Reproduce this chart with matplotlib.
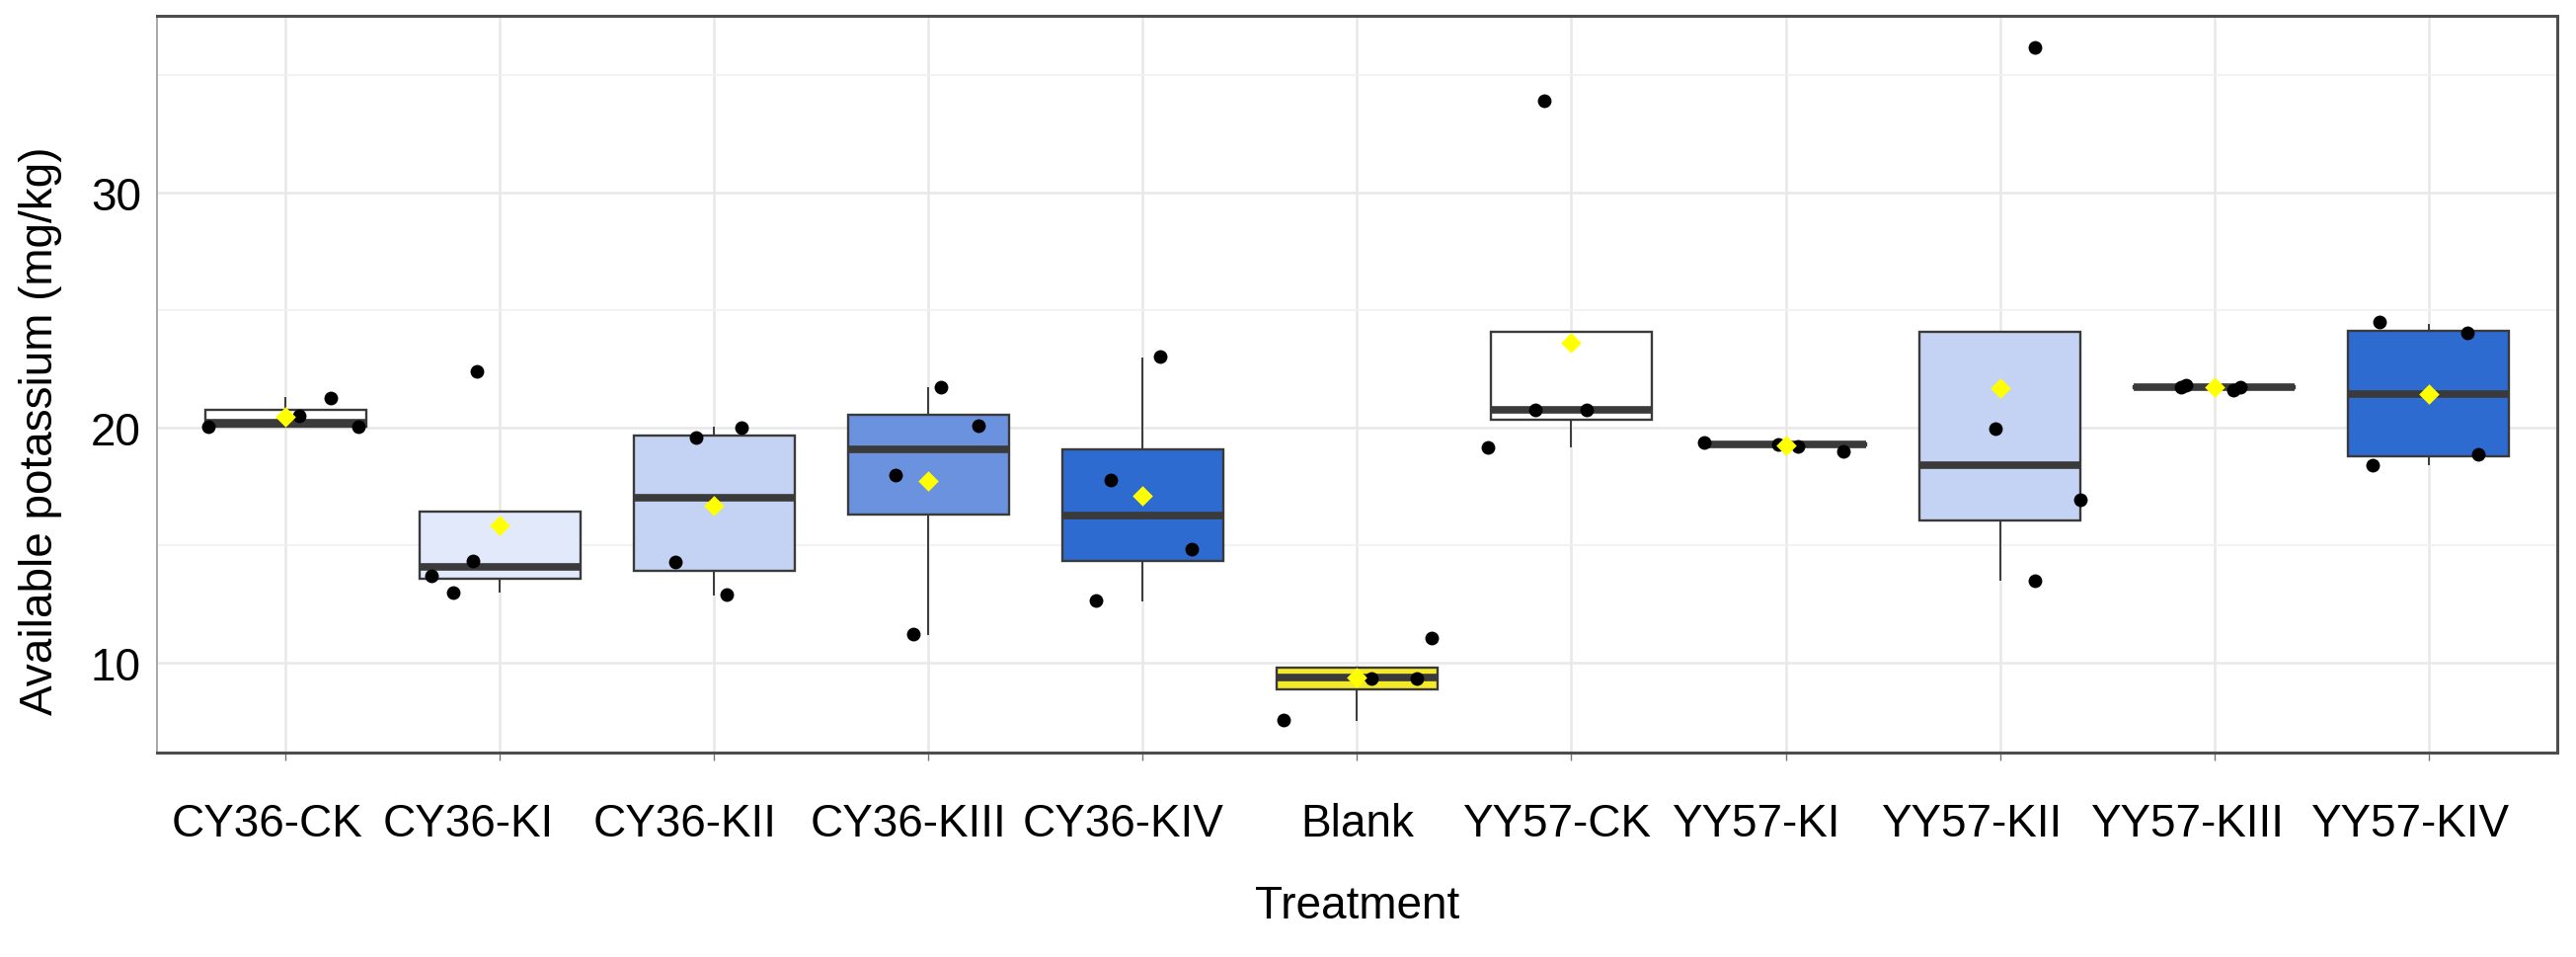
import matplotlib
matplotlib.use('Agg')
import matplotlib.pyplot as plt
from matplotlib.ticker import MultipleLocator
from matplotlib.transforms import ScaledTranslation

plt.rcParams['font.family'] = ['Liberation Sans', 'DejaVu Sans']

groups = ['CY36-CK', 'CY36-KI', 'CY36-KII', 'CY36-KIII', 'CY36-KIV', 'Blank',
          'YY57-CK', 'YY57-KI', 'YY57-KII', 'YY57-KIII', 'YY57-KIV']

# box summaries
q1 = [20.05, 13.60, 13.94, 16.30, 14.33, 8.90, 20.32, 19.25, 16.04, 21.68, 18.78]
med = [20.22, 14.10, 17.02, 19.06, 16.27, 9.38, 20.75, 19.30, 18.42, 21.71, 21.41]
q3 = [20.75, 16.42, 19.68, 20.54, 19.10, 9.82, 24.07, 19.35, 24.07, 21.76, 24.13]
whis_lo = [20.05, 13.02, 12.93, 11.24, 12.68, 7.60, 19.20, 19.00, 13.53, 21.60, 18.46]
whis_hi = [21.25, 16.42, 20.00, 21.70, 22.95, 9.82, 24.07, 19.36, 24.07, 21.82, 24.35]
means = [20.45, 15.87, 16.68, 17.75, 17.11, 9.39, 23.60, 19.25, 21.67, 21.72, 21.45]

# individual samples (4 per treatment)
points = [
    [20.06, 20.49, 21.28, 20.06],
    [13.70, 14.33, 13.00, 22.38],
    [19.59, 20.00, 14.28, 12.93],
    [21.73, 20.10, 17.97, 11.24],
    [23.04, 17.79, 14.86, 12.68],
    [7.60, 9.36, 9.33, 11.07],
    [33.90, 20.75, 20.75, 19.16],
    [19.36, 19.31, 19.20, 18.99],
    [36.17, 19.96, 16.94, 13.49],
    [21.73, 21.82, 21.60, 21.73],
    [24.50, 24.03, 18.89, 18.39],
]
jitter = [
    [-0.36, 0.064, 0.21, 0.34],
    [-0.318, -0.125, -0.217, -0.109],
    [-0.085, 0.13, -0.18, 0.06],
    [0.06, 0.233, -0.154, -0.069],
    [0.08, -0.148, 0.23, -0.22],
    [-0.342, 0.069, 0.278, 0.35],
    [-0.125, -0.17, 0.07, -0.39],
    [-0.381, -0.037, 0.056, 0.268],
    [0.164, -0.019, 0.376, 0.164],
    [-0.156, -0.13, 0.09, 0.12],
    [-0.228, 0.18, 0.23, -0.26],
]

fills = ['#ffffff', '#e1e9fb', '#c4d3f3', '#6a92de', '#2d6bd1', '#f4ea2a',
         '#ffffff', '#e1e9fb', '#c4d3f3', '#6a92de', '#2d6bd1']
# the tick labels in the original sit a little left of their ticks (pixels)
label_shift = [-19, -32, -30, -20, -20, 0, -15, -30, -29, -28, -19]

fig = plt.figure(figsize=(26.09, 9.70), dpi=100)
ax = fig.add_axes([0.0609, 0.2134, 0.9318, 0.7691])

stats = []
for i, g in enumerate(groups):
    stats.append(dict(label=g, q1=q1[i], med=med[i], q3=q3[i],
                      whislo=whis_lo[i], whishi=whis_hi[i], fliers=[]))

pos = list(range(len(groups)))
bp = ax.bxp(stats, positions=pos, widths=0.75, patch_artist=True,
            showcaps=False, showfliers=False,
            boxprops=dict(edgecolor='#3a3a3a', linewidth=1.7),
            medianprops=dict(color='#3a3a3a', linewidth=5.5, solid_capstyle='butt'),
            whiskerprops=dict(color='#3a3a3a', linewidth=1.4))
for patch, c in zip(bp['boxes'], fills):
    patch.set_facecolor(c)
    patch.set_zorder(2)
for line in bp['medians'] + bp['whiskers']:
    line.set_zorder(2.5)

for i, (vals, jx) in enumerate(zip(points, jitter)):
    ax.scatter([i + d for d in jx], vals, s=100, color='black', zorder=3, linewidths=0)

ax.scatter(pos, means, marker='D', s=110, color='#ffff00', zorder=4, linewidths=0)

ax.set_xlim(-0.6, len(groups) - 0.4)
ax.set_ylim(6.2, 37.5)
ax.set_yticks([10, 20, 30])
ax.yaxis.set_minor_locator(MultipleLocator(5))
ax.set_xticks(pos)
ax.set_xticklabels(groups)

ax.grid(True, which='major', color='#e8e8e8', linewidth=1.8, zorder=0)
ax.grid(True, which='minor', axis='y', color='#f1f1f1', linewidth=1.3, zorder=0)
ax.set_axisbelow(True)

ax.tick_params(axis='y', which='both', length=0, pad=11.5, labelsize=33, labelcolor='black')
ax.tick_params(axis='x', length=6, width=1, color='#777777', pad=30, labelsize=33,
               labelcolor='black')
ax.tick_params(axis='x', which='minor', length=0)

# shift after tick_params, which resets the label transforms
for lab, dx in zip(ax.get_xticklabels(), label_shift):
    lab.set_transform(lab.get_transform() + ScaledTranslation(dx / 100, 0, fig.dpi_scale_trans))

for side in ['top', 'bottom', 'right']:
    ax.spines[side].set_color('#4d4d4d')
    ax.spines[side].set_linewidth(2.2)
ax.spines['left'].set_color('#9a9a9a')
ax.spines['left'].set_linewidth(1.2)

ax.set_xlabel('Treatment', fontsize=33, labelpad=28)
ax.set_ylabel('Available potassium (mg/kg)', fontsize=33)
ax.yaxis.set_label_coords(-0.0395, 0.438)

fig.savefig('out.png', dpi=100)
